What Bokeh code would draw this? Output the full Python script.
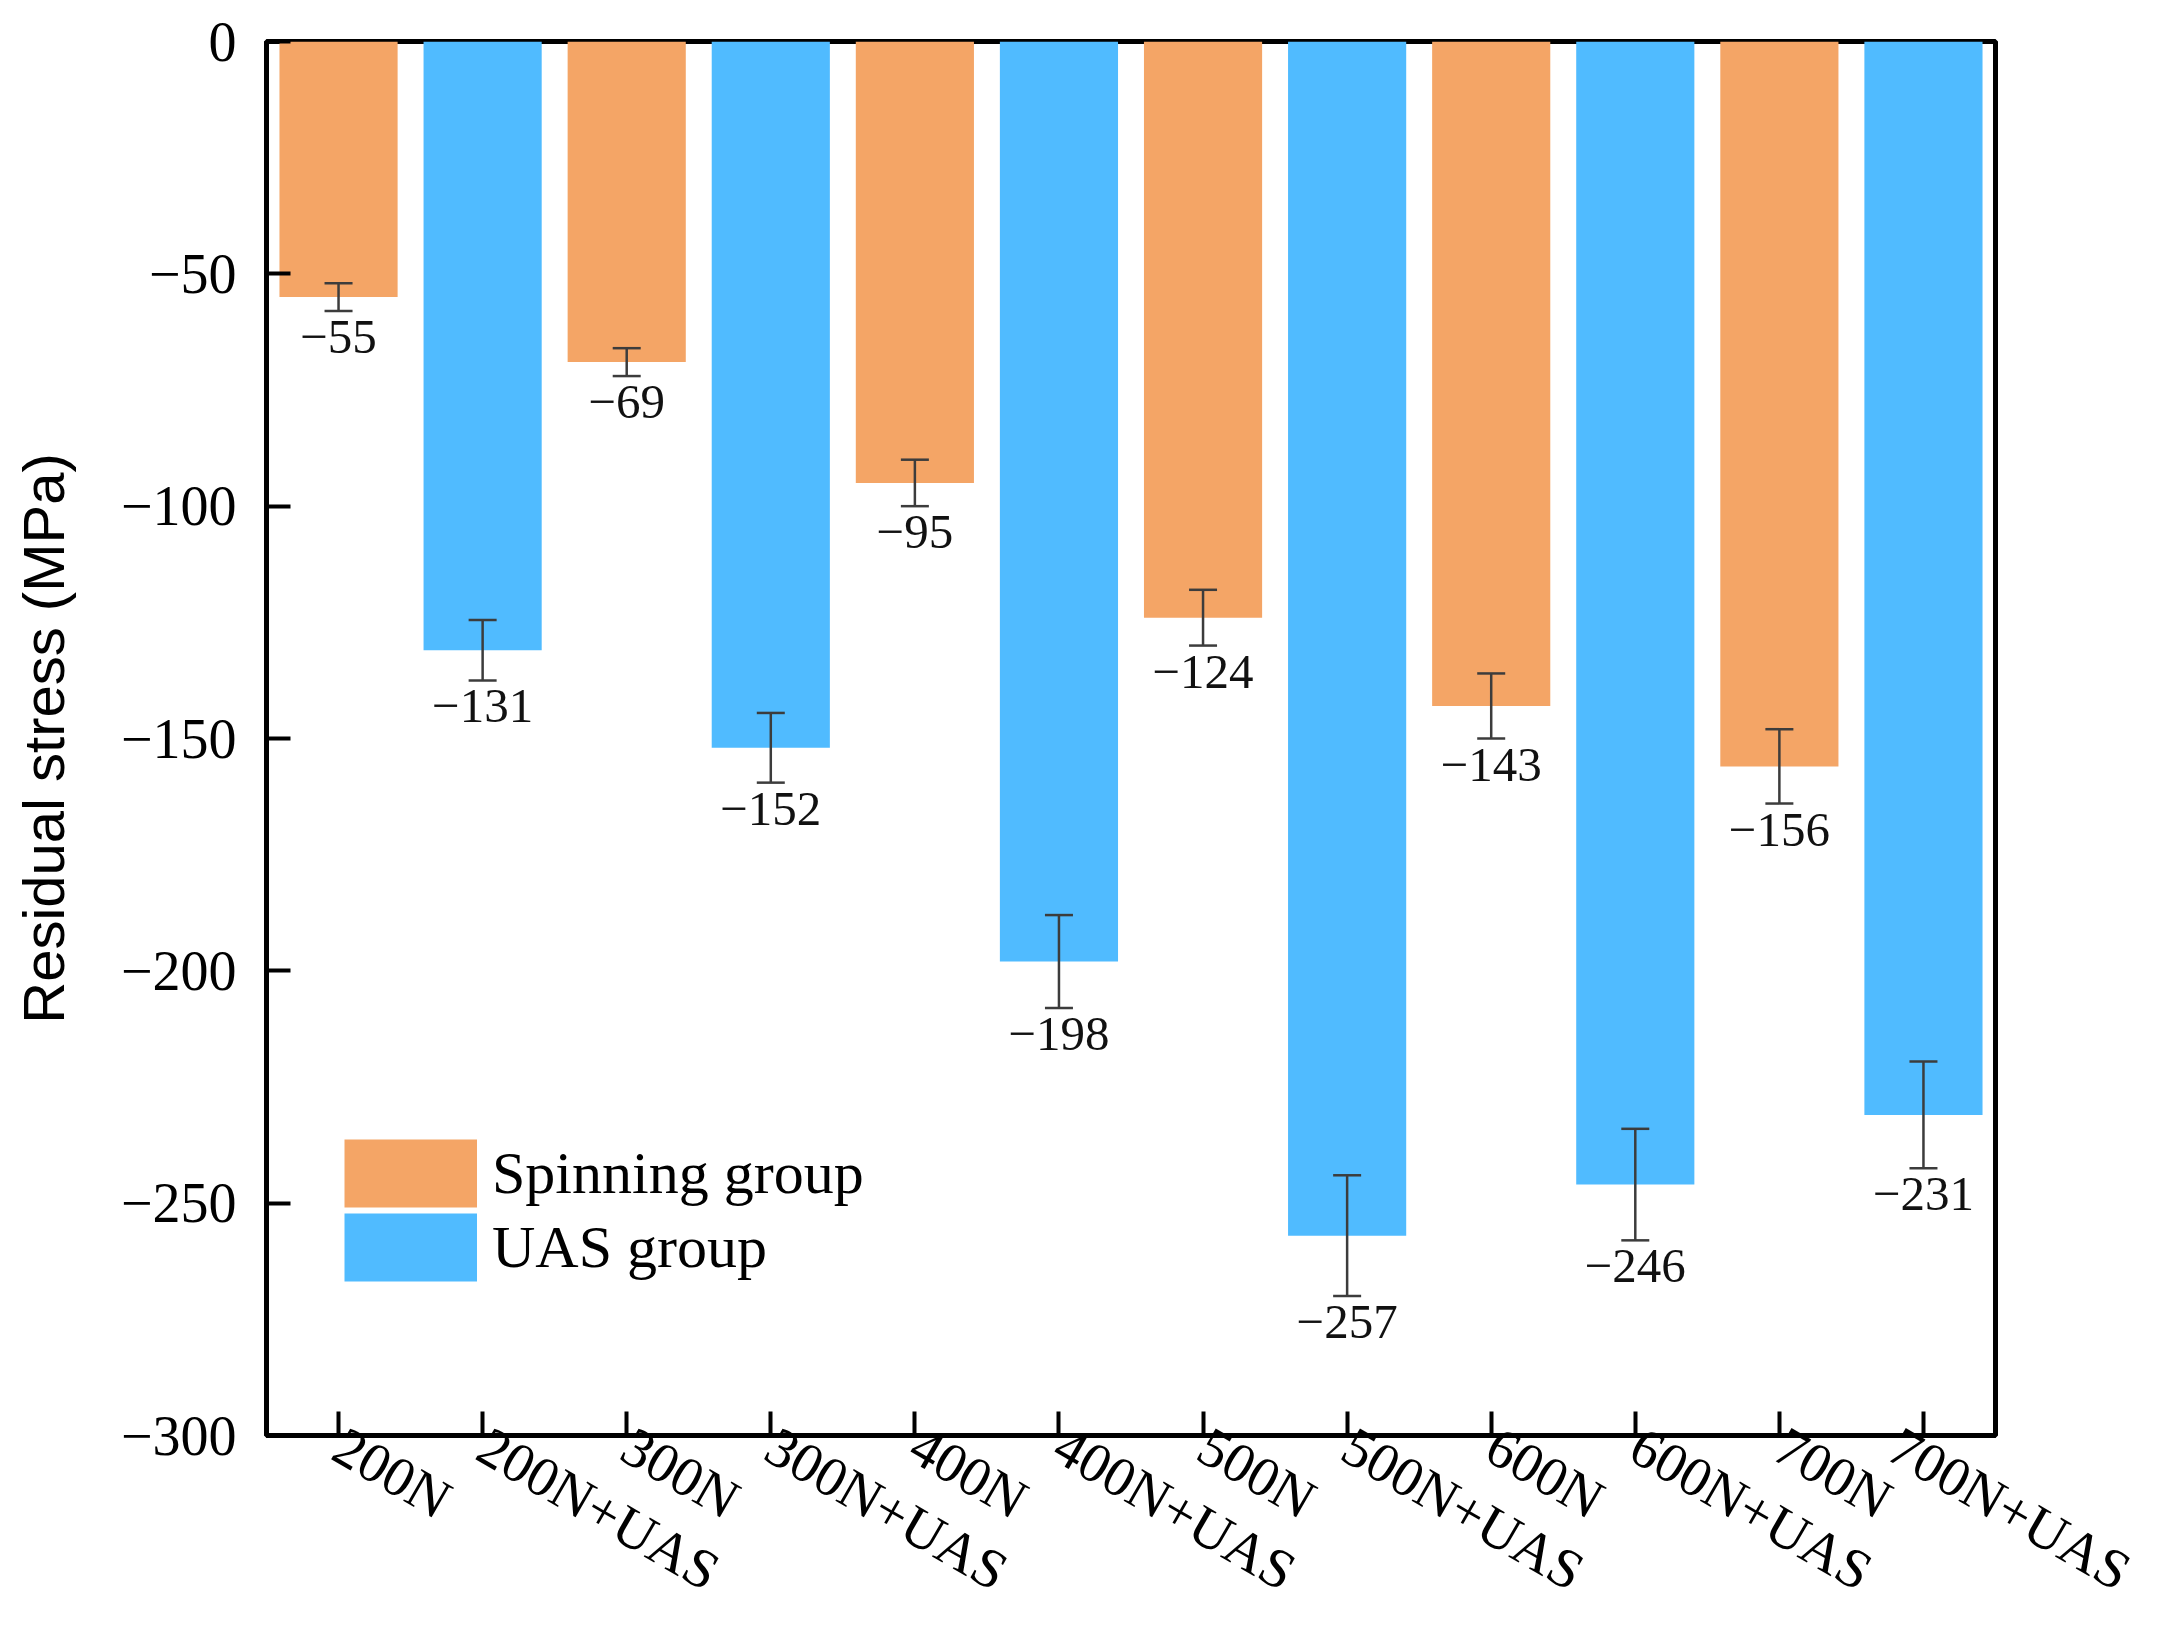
import math
from bokeh.plotting import figure
from bokeh.models import (FactorRange, Range1d, FixedTicker, ColumnDataSource,
                          Whisker, TeeHead, Legend, LegendItem)
from bokeh.core.properties import value
from bokeh.embed import file_html
from bokeh.resources import INLINE

# ---- data ----
categories = ["200N", "200N+UAS", "300N", "300N+UAS", "400N", "400N+UAS",
              "500N", "500N+UAS", "600N", "600N+UAS", "700N", "700N+UAS"]
spinning_cats = ["200N", "300N", "400N", "500N", "600N", "700N"]
spinning_vals = [-55, -69, -95, -124, -143, -156]
spinning_err = [3, 3, 5, 6, 7, 8]
uas_cats = ["200N+UAS", "300N+UAS", "400N+UAS", "500N+UAS", "600N+UAS", "700N+UAS"]
uas_vals = [-131, -152, -198, -257, -246, -231]
uas_err = [6.5, 7.5, 10, 13, 12, 11.5]
y_ticks = [0, -50, -100, -150, -200, -250, -300]
y_tick_labels = ["0", "\u221250", "\u2212100", "\u2212150", "\u2212200", "\u2212250", "\u2212300"]
legend_labels = ["Spinning group", "UAS group"]

ORANGE = "#F4A566"
BLUE = "#50BBFF"
SERIF = "Liberation Serif"
NAN = float("nan")

def make_src(cats, vals, errs):
    return ColumnDataSource(dict(
        x=cats, top=[0] * len(vals), bottom=vals,
        upper=[v + e for v, e in zip(vals, errs)],
        lower=[v - e for v, e in zip(vals, errs)],
        label=["\u2212" + str(abs(v)) for v in vals],
    ))

src_s = make_src(spinning_cats, spinning_vals, spinning_err)
src_u = make_src(uas_cats, uas_vals, uas_err)

p = figure(width=2141, height=1632,
           x_range=FactorRange(factors=categories, range_padding=0),
           y_range=Range1d(-300, 0),
           output_backend="svg", toolbar_location=None,
           min_border_left=266, min_border_right=146,
           min_border_top=41, min_border_bottom=197)

p.vbar(x="x", top="top", bottom="bottom", width=0.82, source=src_s,
       fill_color=ORANGE, line_color=None)
p.vbar(x="x", top="top", bottom="bottom", width=0.82, source=src_u,
       fill_color=BLUE, line_color=None)

EB = "#3c3c3c"
for src in (src_s, src_u):
    w = Whisker(source=src, base="x", upper="upper", lower="lower",
                level="overlay",
                line_color=EB, line_width=2.5,
                upper_head=TeeHead(size=28, line_color=EB, line_width=2.5),
                lower_head=TeeHead(size=28, line_color=EB, line_width=2.5))
    p.add_layout(w)
    p.text(x="x", y="lower", text="label", source=src,
           text_font=value(SERIF), text_font_size="49px", text_color="#111111",
           text_align="center", text_baseline="top", y_offset=10)

# grid / frame
p.xgrid.visible = False
p.ygrid.visible = False
p.outline_line_color = "black"
p.outline_line_width = 5
p.background_fill_color = "white"
p.border_fill_color = "white"

# y axis
p.yaxis.ticker = FixedTicker(ticks=y_ticks)
p.yaxis.major_label_overrides = {t: l for t, l in zip(y_ticks, y_tick_labels)}
p.yaxis.minor_tick_line_color = None
p.yaxis.major_tick_in = 24
p.yaxis.major_tick_out = 0
p.yaxis.major_tick_line_width = 4
p.yaxis.axis_line_width = 5
p.yaxis.major_label_text_font = SERIF
p.yaxis.major_label_text_font_size = "56px"
p.yaxis.major_label_text_color = "black"
p.yaxis.major_label_standoff = 30
p.yaxis.axis_label = "Residual stress (MPa)"
p.yaxis.axis_label_text_font = "Liberation Sans"
p.yaxis.axis_label_text_font_size = "58px"
p.yaxis.axis_label_text_font_style = "normal"
p.yaxis.axis_label_text_color = "black"
p.yaxis.axis_label_standoff = 42

# x axis
p.xaxis.major_tick_in = 24
p.xaxis.major_tick_out = 0
p.xaxis.major_tick_line_width = 4
p.xaxis.axis_line_width = 5
p.xaxis.major_label_text_font = SERIF
p.xaxis.major_label_text_font_size = "56px"
p.xaxis.major_label_text_color = "black"
p.xaxis.major_label_orientation = -math.pi / 6
p.xaxis.major_label_standoff = 6

# legend (thick butt-capped lines give solid colour patches; their data is NaN)
leg_s = p.line(x=[categories[0], categories[1]], y=[NAN, NAN],
               line_color=ORANGE, line_width=68, line_cap="butt")
leg_u = p.line(x=[categories[0], categories[1]], y=[NAN, NAN],
               line_color=BLUE, line_width=68, line_cap="butt")
lg = Legend(items=[LegendItem(label=legend_labels[0], renderers=[leg_s]),
                   LegendItem(label=legend_labels[1], renderers=[leg_u])],
            location=(78, 151))
lg.glyph_width = 133
lg.glyph_height = 74
lg.spacing = 0
lg.padding = 0
lg.margin = 0
lg.label_standoff = 15
lg.label_text_font = SERIF
lg.label_text_font_size = "60px"
lg.label_text_color = "black"
lg.border_line_color = None
lg.background_fill_alpha = 0
p.add_layout(lg, "center")

open("out.html", "w").write(file_html(p, INLINE))
